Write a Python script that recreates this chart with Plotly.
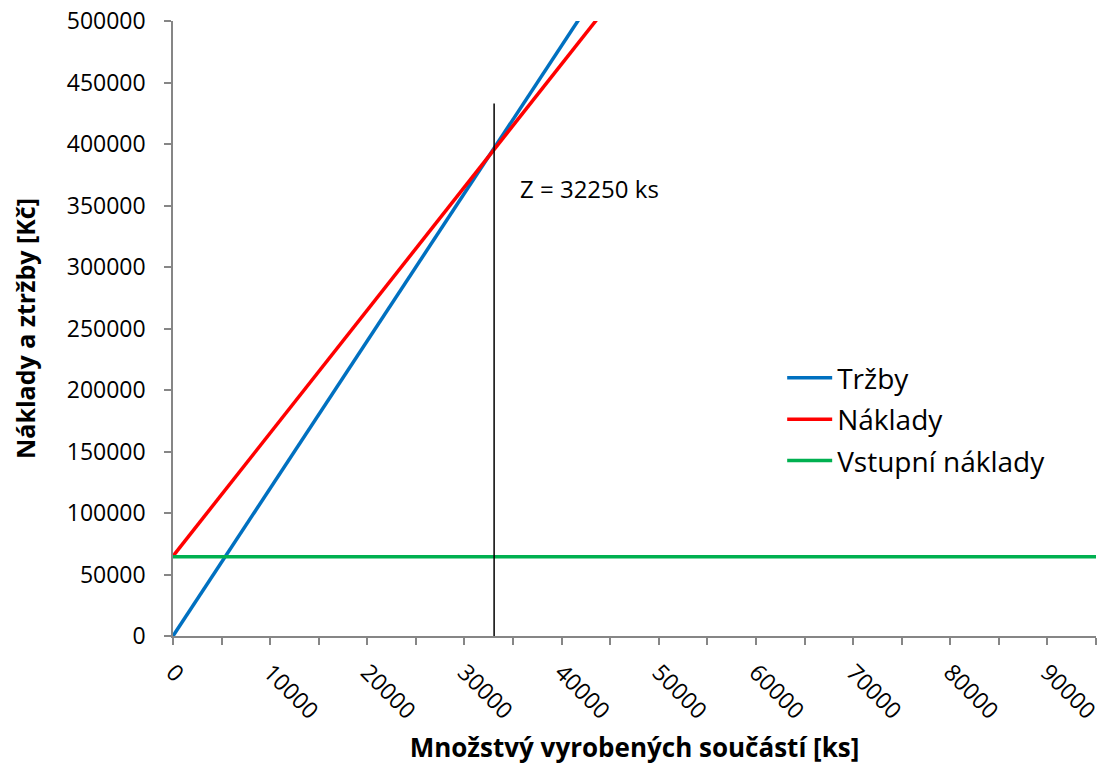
import plotly.graph_objects as go

# ---- data ----
mnozstvi = [0, 95000]                 # x, produced parts [ks]
trzby = [0, 1140000]                  # revenue [Kč]
naklady = [65000, 1015000]            # total costs [Kč]
vstupni_naklady = [64500, 64500]      # fixed (initial) costs [Kč]

zlom_x = [33050, 33050]               # break-even marker line
zlom_y = [0, 433000]
zlom_label = "Z = 32250 ks"
zlom_label_pos = (35500, 364000)

x_tickvals = list(range(0, 95001, 5000))
x_ticktext = [str(v) if v % 10000 == 0 else "" for v in x_tickvals]
y_tickvals = list(range(0, 500001, 50000))
y_ticktext = [str(v) for v in y_tickvals]

FONT = "Open Sans"
AXIS_GRAY = "#868686"

fig = go.Figure()
fig.add_trace(go.Scatter(x=mnozstvi, y=trzby, mode="lines", name="Tržby",
                         line=dict(color="#0070C0", width=3.5), legendgroup="a"))
fig.add_trace(go.Scatter(x=mnozstvi, y=naklady, mode="lines", name="Náklady",
                         line=dict(color="#FF0000", width=3.5), legendgroup="b"))
fig.add_trace(go.Scatter(x=mnozstvi, y=vstupni_naklady, mode="lines", name="Vstupní náklady",
                         line=dict(color="#00B050", width=3.5), legendgroup="c"))
fig.add_trace(go.Scatter(x=zlom_x, y=zlom_y, mode="lines", showlegend=False,
                         line=dict(color="black", width=1.5)))

fig.add_annotation(x=zlom_label_pos[0], y=zlom_label_pos[1], text=zlom_label,
                   showarrow=False, xanchor="left", yanchor="middle",
                   font=dict(family=FONT, size=24, color="black"))

fig.update_layout(
    width=1106, height=776,
    margin=dict(l=173, r=10, t=21, b=140, autoexpand=False),
    paper_bgcolor="white", plot_bgcolor="white",
    font=dict(family=FONT, color="black"),
    showlegend=True,
    legend=dict(x=0.66, y=0.46, xanchor="left", yanchor="top",
                font=dict(family=FONT, size=28, color="black"),
                bgcolor="rgba(0,0,0,0)", tracegroupgap=2, itemwidth=45),
    xaxis=dict(range=[0, 95000], tickmode="array", tickvals=x_tickvals, ticktext=x_ticktext,
               tickangle=45, ticks="outside", ticklen=7, tickcolor=AXIS_GRAY, tickwidth=1.5,
               showline=True, linecolor=AXIS_GRAY, linewidth=1.5, showgrid=False, zeroline=False,
               automargin=False, ticklabelstandoff=5, ticklabeloverflow="allow",
               tickfont=dict(family=FONT, size=23, color="black"),
               title=dict(text="<b>Množstvý vyrobených součástí [ks]</b>",
                          font=dict(family=FONT, size=26, color="black"), standoff=14)),
    yaxis=dict(range=[0, 500000], tickmode="array", tickvals=y_tickvals, ticktext=y_ticktext,
               ticks="outside", ticklen=7, tickcolor=AXIS_GRAY, tickwidth=1.5,
               showline=True, linecolor=AXIS_GRAY, linewidth=1.5, showgrid=False, zeroline=False,
               automargin=False, ticklabelstandoff=14, ticklabeloverflow="allow",
               tickfont=dict(family=FONT, size=23, color="black"),
               title=dict(text="<b>Náklady a ztržby [Kč]</b>",
                          font=dict(family=FONT, size=25, color="black"), standoff=24)),
)

fig.write_html("out.html", config={"displayModeBar": False},
               post_script="document.body.style.margin='0px';")
